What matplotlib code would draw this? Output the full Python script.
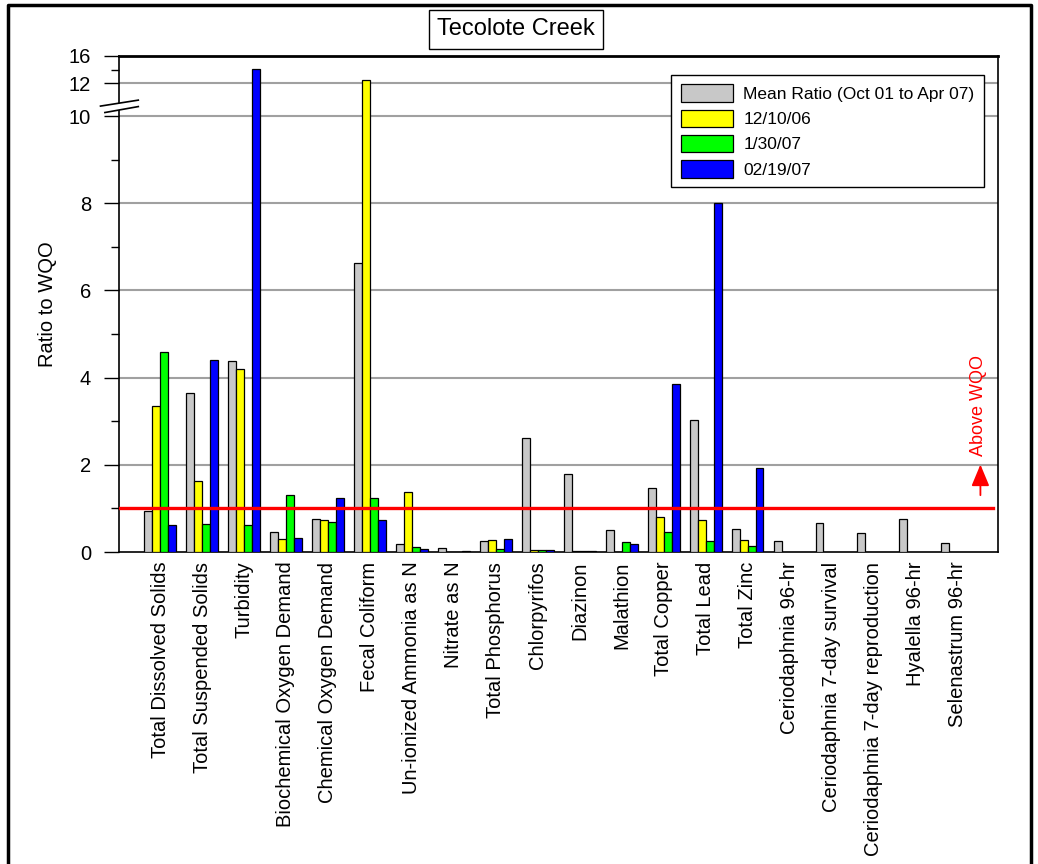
import numpy as np
import matplotlib
matplotlib.use("Agg")
import matplotlib.pyplot as plt
from matplotlib.lines import Line2D
from matplotlib.patches import Polygon

plt.rcParams['font.family'] = ['Liberation Sans', 'DejaVu Sans']

nan = np.nan

categories = [
    "Total Dissolved Solids", "Total Suspended Solids", "Turbidity",
    "Biochemical Oxygen Demand", "Chemical Oxygen Demand", "Fecal Coliform",
    "Un-ionized Ammonia as N", "Nitrate as N", "Total Phosphorus",
    "Chlorpyrifos", "Diazinon", "Malathion", "Total Copper", "Total Lead",
    "Total Zinc", "Ceriodaphnia 96-hr", "Ceriodaphnia 7-day survival",
    "Ceriodaphnia 7-day reproduction", "Hyalella 96-hr", "Selenastrum 96-hr",
]

mean_ratio = [0.94, 3.64, 4.39, 0.46, 0.76, 6.63, 0.19, 0.085, 0.25, 2.61,
              1.80, 0.50, 1.46, 3.04, 0.53, 0.25, 0.66, 0.44, 0.75, 0.21]
dec_10_06 = [3.34, 1.64, 4.19, 0.29, 0.73, 12.5, 1.38, 0.01, 0.27, 0.04,
             0.02, 0.0, 0.81, 0.74, 0.27, nan, nan, nan, nan, nan]
jan_30_07 = [4.60, 0.64, 0.61, 1.31, 0.68, 1.23, 0.11, 0.01, 0.06, 0.04,
             0.02, 0.23, 0.45, 0.26, 0.14, nan, nan, nan, nan, nan]
feb_19_07 = [0.61, 4.40, 14.1, 0.32, 1.25, 0.73, 0.07, 0.03, 0.30, 0.04,
             0.02, 0.19, 3.85, 8.0, 1.93, nan, nan, nan, nan, nan]

series = [
    ("Mean Ratio (Oct 01 to Apr 07)", mean_ratio, "#c8c8c8"),
    ("12/10/06", dec_10_06, "#ffff00"),
    ("1/30/07", jan_30_07, "#00ff00"),
    ("02/19/07", feb_19_07, "#0000ff"),
]

wqo_limit = 1.0


# broken axis: 0-10 linear, 10-12 and 12-16 squeezed above the break
def forward(y):
    y = np.asarray(y, dtype=float)
    return np.where(y <= 10, y,
                    np.where(y <= 12, 10 + (y - 10) * 0.375,
                             10.75 + (y - 12) * 0.1575))


def inverse(t):
    t = np.asarray(t, dtype=float)
    return np.where(t <= 10, t,
                    np.where(t <= 10.75, 10 + (t - 10) / 0.375,
                             12 + (t - 10.75) / 0.1575))


fig = plt.figure(figsize=(10.38, 8.64), dpi=100)
ax = fig.add_axes([0.1146, 0.3611, 0.8469, 0.5741])
ax.set_yscale('function', functions=(forward, inverse))

x = np.arange(len(categories))
w = 0.19
for i, (name, vals, col) in enumerate(series):
    ax.bar(x + (i - 1.5) * w, vals, width=w, color=col, edgecolor='black',
           linewidth=0.9, label=name, zorder=3)

ax.set_xlim(-0.98, 19.97)
ax.set_ylim(0, 16)

ax.set_yticks([0, 2, 4, 6, 8, 10, 12, 16])
ax.set_yticks([1, 3, 5, 7, 9, 14], minor=True)
ax.tick_params(axis='y', which='major', length=11, width=1, pad=9, labelsize=14.5)
ax.tick_params(axis='y', which='minor', length=6, width=1)
ax.set_xticks(x)
ax.set_xticklabels(categories, rotation=90, fontsize=14.5, va='top')
ax.tick_params(axis='x', length=0, pad=7)

for v in [2, 4, 6, 8, 10, 12]:
    ax.axhline(v, color='#a0a0a0', lw=1.5, zorder=1)

for s in ax.spines.values():
    s.set_linewidth(1.2)
ax.spines['top'].set_linewidth(2)

ax.set_ylabel("Ratio to WQO", fontsize=14.5)
ax.yaxis.set_label_coords(-0.071, 0.5)

# water quality objective line and note
ax.axhline(wqo_limit, xmax=0.994, color='red', lw=2.4, zorder=4)
ax.annotate("", xy=(19.55, 2.07), xytext=(19.55, 1.24),
            arrowprops=dict(arrowstyle='-|>,head_length=0.6,head_width=0.25',
                            color='red', lw=1.3, mutation_scale=22), zorder=5)
ax.text(19.5, 3.37, "Above WQO", color='red', rotation=90, fontsize=13,
        ha='center', va='center', zorder=5)

# axis break marks
brk = Polygon([(-0.021, 0.899), (0.022, 0.911), (0.022, 0.898), (-0.016, 0.886)],
              closed=True, transform=ax.transAxes, facecolor='white',
              edgecolor='none', clip_on=False, zorder=6)
ax.add_patch(brk)
for (xa, ya), (xb, yb) in [((-0.021, 0.899), (0.022, 0.911)),
                           ((-0.016, 0.886), (0.022, 0.898))]:
    ax.add_line(Line2D([xa, xb], [ya, yb], transform=ax.transAxes, color='black',
                       lw=1.2, clip_on=False, zorder=7))

leg = ax.legend(loc='upper right', bbox_to_anchor=(0.984, 0.962), fontsize=12.5,
                handlelength=3.0, handleheight=1.15, labelspacing=0.45,
                borderaxespad=0, fancybox=False, framealpha=1,
                edgecolor='black', borderpad=0.55, handletextpad=0.6)
leg.get_frame().set_linewidth(1.0)

fig.text(0.497, 0.966, "Tecolote Creek", fontsize=17, ha='center', va='center',
         bbox=dict(boxstyle='square,pad=0.35', facecolor='white',
                   edgecolor='black', linewidth=1))

# outer frame of the page
fig.add_artist(Line2D([8 / 1038, 8 / 1038, 1031 / 1038, 1031 / 1038],
                      [-0.01, 1 - 5 / 864, 1 - 5 / 864, -0.01],
                      transform=fig.transFigure, color='black', lw=2.5))

fig.savefig("out.png", dpi=100)
